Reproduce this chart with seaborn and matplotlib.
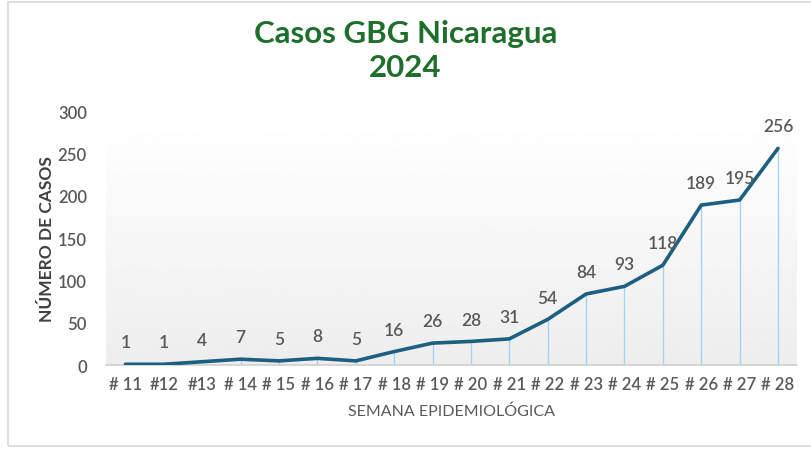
import numpy as np
import pandas as pd
import seaborn as sns
import matplotlib.pyplot as plt
from matplotlib.patches import Rectangle

semanas = ["# 11", "#12", "#13", "# 14", "# 15", "# 16", "# 17", "# 18", "# 19",
           "# 20", "# 21", "# 22", "# 23", "# 24", "# 25", "# 26", "# 27", "# 28"]
casos = [1, 1, 4, 7, 5, 8, 5, 16, 26, 28, 31, 54, 84, 93, 118, 189, 195, 256]

df = pd.DataFrame({"semana": semanas, "casos": casos})
df["pos"] = np.arange(len(df))

sns.set_style("white")
plt.rcParams["font.family"] = ["Lato", "DejaVu Sans"]

fig = plt.figure(figsize=(8.11, 4.52), dpi=100)
ax = fig.add_axes([0.131, 0.190, 0.852, 0.562])

# outer chart border (right edge runs off the picture)
fig.patches.append(Rectangle((0.010, 0.011), 1.05, 0.982, transform=fig.transFigure,
                             fill=False, edgecolor="#d9d9d9", linewidth=1.2))

# gradient background of plot area
grad = np.linspace(1.0, 0.93, 256).reshape(-1, 1)
ax.imshow(grad, cmap="gray", vmin=0, vmax=1, aspect="auto",
          extent=(-0.5, len(df) - 0.5, 0, 290), zorder=0)

# drop lines
ax.vlines(df["pos"], 0, df["casos"], color="#9dd3f0", linewidth=0.9, zorder=1)

sns.lineplot(data=df, x="pos", y="casos", color="#1d5f80", linewidth=2.6,
             ax=ax, zorder=3)

for x, y in zip(df["pos"], df["casos"]):
    ax.annotate(str(y), (x, y), xytext=(0, 10), textcoords="offset points",
                ha="center", va="bottom", fontsize=12.5, color="#595959",
                fontweight="semibold")

ax.set_xlim(-0.5, len(df) - 0.5)
ax.set_ylim(0, 300)
ax.set_yticks(range(0, 301, 50))
ax.set_xticks(df["pos"])
ax.set_xticklabels(semanas)
ax.tick_params(axis="both", length=0, labelsize=12, labelcolor="#595959", pad=8)
ax.tick_params(axis="y", pad=14)
for lbl in ax.get_xticklabels() + ax.get_yticklabels():
    lbl.set_fontweight("semibold")

for s in ["top", "right", "left"]:
    ax.spines[s].set_visible(False)
ax.spines["bottom"].set_color("#d0d0d0")
ax.spines["bottom"].set_linewidth(1.2)

ax.set_xlabel("SEMANA EPIDEMIOLÓGICA", fontsize=11.5, color="#595959", labelpad=8)
ax.set_ylabel("NÚMERO DE CASOS", fontsize=12.5, color="#404040", fontweight="bold",
              labelpad=2)

fig.text(0.5, 0.955, "Casos GBG Nicaragua\n2024", ha="center", va="top",
         fontsize=22.5, fontweight="bold", color="#1e6e2c", linespacing=1.25)

fig.savefig("out.png", dpi=100)
